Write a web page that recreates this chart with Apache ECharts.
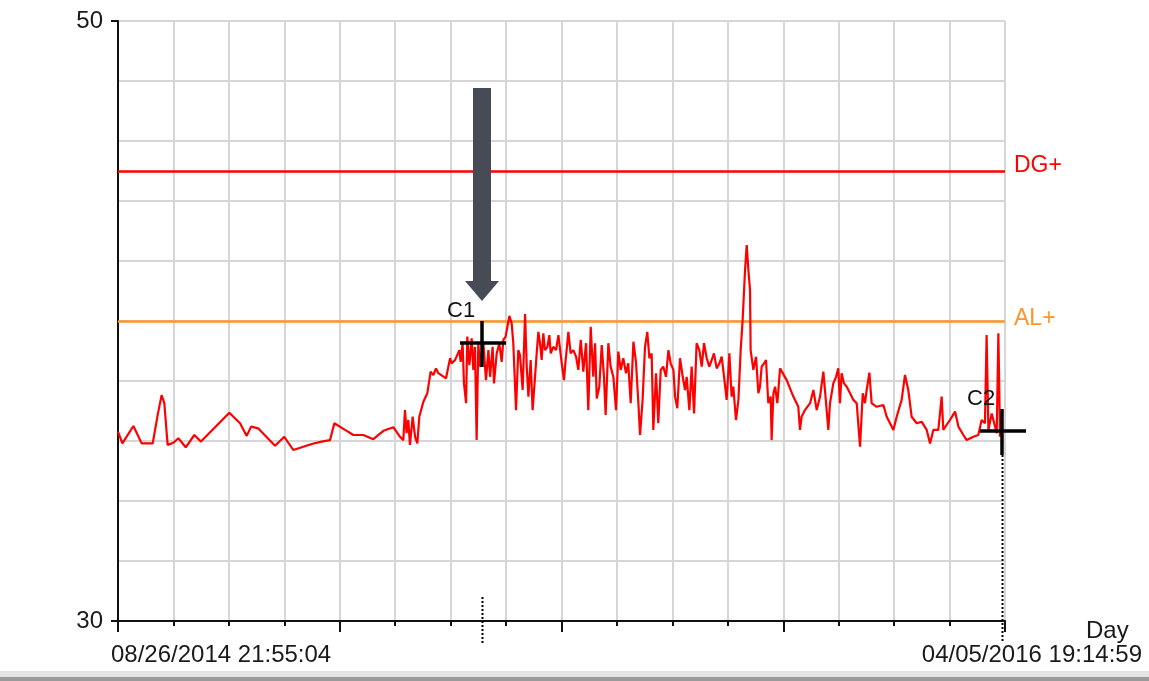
<!DOCTYPE html>
<html>
<head>
<meta charset="utf-8">
<title>Trend C1 / C2</title>
<script src="https://cdn.jsdelivr.net/npm/echarts@6/dist/echarts.min.js"></script>
<style>
  html, body { margin: 0; padding: 0; background: #ffffff; }
  #chart { width: 1149px; height: 681px; }
</style>
</head>
<body>
<div id="chart"></div>
<script>
// Time in days since the first sample (08/26/2014 21:55:04)
const DAYS = [
  0, 2.9, 10.2, 15.7, 23.0, 26.3, 28.9, 30.7, 32.9, 36.7, 40.0, 44.9, 50.6, 55.0, 73.8, 80.9, 85.3, 88.2, 93.0, 104.1,
  110.2, 116.2, 122.8, 128.4, 135.0, 140.5, 143.4, 150.5,
  156.0, 162.6, 169.2, 175.9, 182.5, 186.9, 189.1, 190.2, 191.3, 192.4, 193.5, 195.3, 196.9, 198.4, 199.7, 202.4,
  205.0, 207.2, 209.0, 210.8, 212.3, 213.4, 217.4, 220.1, 221.2, 223.4, 224.9, 226.2, 227.1, 228.4, 229.3, 230.7,
  231.5, 232.9, 234.4, 235.5, 236.6, 237.7, 238.8, 239.9, 242.1, 243.9, 245.5, 246.6, 248.3, 249.2, 251.0, 252.7,
  254.3, 255.4, 256.9, 258.1, 259.4, 260.9, 262.0, 263.8, 265.3, 266.4, 268.2, 269.8, 270.9, 272.0, 273.5, 274.8,
  276.4, 277.5, 278.6, 279.7, 280.8, 281.9, 283.0, 284.6, 285.9, 286.8, 288.5, 290.3, 291.9, 294.1, 295.6,
  296.3, 298.5, 300.0, 301.8, 303.6, 305.1, 306.7, 308.4, 310.2, 311.7, 313.3, 315.0, 316.2, 317.3, 319.0, 320.6,
  322.1, 323.2, 325.0, 326.5, 328.3, 330.1, 331.6, 333.2, 334.9, 336.7, 338.2, 339.8, 341.6, 343.3, 344.9, 346.0,
  347.7, 349.3, 350.8, 352.2, 353.7, 354.8, 356.6, 358.1, 359.7, 361.4, 363.2, 364.8, 366.3, 368.1, 369.2, 370.7,
  372.5, 374.3, 375.8, 376.9, 378.7, 380.2, 381.8, 383.5, 385.3, 386.9, 388.4, 390.2, 391.9, 393.5, 395.0, 396.8,
  398.6, 400.1, 401.7, 403.4, 405.2, 406.7, 407.8, 409.6, 411.2, 412.7, 414.0,
  415.6, 416.7, 417.8, 418.9, 419.3, 421.1, 422.9, 424.4, 425.5, 426.6, 428.2, 429.5, 431.0, 432.6, 433.2, 434.4,
  435.5, 437.0, 438.8, 443.2, 447.6, 450.9, 452.0, 453.1, 455.3, 458.7, 460.9, 463.1, 465.3, 467.5, 469.3, 470.8,
  471.9, 474.1, 475.9, 477.4, 478.5, 479.6, 481.2, 483.0, 485.2, 487.4, 489.6, 491.8, 493.6, 495.1, 496.2, 498.0,
  499.5, 502.8, 507.3, 509.5, 511.7, 513.9, 516.1, 519.4, 521.6, 523.8, 526.0, 529.4, 532.7, 536.0, 538.2, 540.4,
  543.7, 545.9, 547.0, 551.4, 554.8, 557.0, 560.3, 562.5, 566.9, 570.2, 572.4, 574.6, 575.7, 576.9, 579.1, 582.4,
  583.5, 584.6
];

// Measured value at each of those times
const VALUES = [
  36.31, 35.92, 36.5, 35.92, 35.92, 36.87, 37.53, 37.26, 35.87, 35.94, 36.09, 35.79, 36.2, 35.98, 36.94, 36.59, 36.17, 36.48, 36.42, 35.84,
  36.14, 35.7, 35.81, 35.9, 35.98, 36.03, 36.59, 36.37,
  36.2, 36.2, 36.06, 36.34, 36.46, 36.14, 36.03, 37.03, 36.26, 36.7, 35.87, 36.81, 36.14, 35.92, 36.81, 37.31,
  37.59, 38.31, 38.2, 38.42, 38.26, 38.31, 38.09, 38.76, 38.59, 38.7, 38.87, 39.03, 38.64, 39.26, 37.92, 37.26,
  39.48, 38.53, 39.42, 38.37, 39.14, 36.03, 39.26, 38.48, 39.31, 38.03, 39.03, 38.14, 39.14, 37.92, 38.92, 39.26,
  38.64, 39.37, 39.48, 39.81, 40.17, 39.92, 39.26, 37.03, 39.03, 38.87, 37.7, 40.23, 38.48, 37.48, 38.7, 37.03,
  38.14, 38.92, 39.64, 39.26, 38.7, 39.59, 39.03, 39.14, 39.53, 38.92, 39.14, 39.03, 39.53, 38.59, 38.03,
  38.48, 39.64, 38.92, 39.03, 38.81, 38.37, 39.37, 38.31, 39.26, 37.03, 39.81, 38.14, 39.26, 37.42, 37.81, 39.2,
  38.14, 36.87, 39.26, 38.48, 38.14, 37.03, 38.98, 38.37, 38.76, 38.26, 38.59, 37.26, 39.31, 38.64, 37.26, 36.2,
  37.37, 39.14, 39.64, 38.76, 38.92, 36.37, 38.26, 36.59, 38.37, 38.48, 38.14, 39.03, 38.59, 38.37, 37.48, 37.09,
  38.76, 38.14, 37.7, 38.14, 37.03, 38.48, 36.92, 39.26, 39.03, 38.48, 39.26, 38.76, 38.48, 38.7, 38.92, 38.42,
  38.59, 38.81, 38.14, 37.37, 38.92, 37.48, 37.81, 36.7, 37.37, 39.03, 40.03,
  41.7, 42.53, 41.7, 41.03, 39.03, 38.37, 38.81, 37.59, 37.81, 38.48, 38.59, 38.7, 37.26, 37.48, 36.03, 37.59,
  37.81, 37.26, 38.42, 38.03, 37.48, 37.14, 36.37, 36.81, 37.03, 37.26, 37.7, 37.03, 37.48, 38.31, 37.26, 36.37,
  37.26, 37.92, 38.14, 38.42, 37.26, 38.26, 37.92, 37.81, 37.59, 37.37, 37.26, 35.81, 37.59, 37.26, 37.7, 38.28,
  37.26, 37.14, 37.2, 36.81, 36.59, 36.37, 36.81, 37.37, 38.2, 37.7, 36.81, 36.59, 36.64, 36.37, 35.92, 36.37,
  36.37, 37.48, 36.37, 36.7, 36.98, 36.48, 36.2, 36.03, 36.14, 36.2, 36.7, 36.59, 39.53, 36.37, 36.92, 36.26,
  39.59, 36.14
];

// Length of the recording, 08/26/2014 21:55:04 to 04/05/2016 19:14:59, in days
const SPAN_DAYS = 587.89;
const Y_MIN = 30;
const Y_MAX = 50;

// Limit lines
const LIMIT_NAMES = ['DG+', 'AL+'];
const LIMIT_VALUES = [45, 40];

// Cursors placed on the trace
const CURSOR_NAMES = ['C1', 'C2'];
const CURSOR_DAYS = [241.3, 585.9];
const CURSOR_VALUES = [39.27, 36.33];

// Labels under the time axis
const RANGE_LABELS = ['08/26/2014 21:55:04', '04/05/2016 19:14:59'];
const X_AXIS_NAME = 'Day';

const FONT = '"Liberation Sans", Arial, sans-serif';
const GRID_COLOR = '#d6d6d6';
const LIMIT_COLORS = ['#ff0000', '#ff9428'];
const LIMIT_LABEL_OFFSETS = [[0, -5], [0, -2]];

const chart = echarts.init(document.getElementById('chart'), null, { renderer: 'canvas' });

const traceData = DAYS.map((d, i) => [d, VALUES[i]]);
const cursorData = CURSOR_DAYS.map((d, i) => [d, CURSOR_VALUES[i]]);

function renderCursor(params, api) {
  const p = api.coord([api.value(0), api.value(1)]);
  const cx = Math.round(p[0]);
  const cy = Math.round(p[1]);
  const axisY = params.coordSys.y + params.coordSys.height;
  const idx = params.dataIndex;
  const children = [
    { type: 'line', shape: { x1: cx - 22, y1: cy, x2: cx + 24, y2: cy }, style: { stroke: '#000', lineWidth: 3.5 } },
    { type: 'line', shape: { x1: cx, y1: cy - 22, x2: cx, y2: cy + 24 }, style: { stroke: '#000', lineWidth: 3.5 } },
    {
      type: 'text', x: cx - 35, y: cy - 21,
      style: { text: CURSOR_NAMES[idx], fill: '#111', fontSize: 22, fontFamily: FONT, verticalAlign: 'bottom', align: 'left' }
    }
  ];
  // dotted drop line onto the time axis
  const dotTop = idx === 0 ? axisY - 24 : cy + 24;
  children.push({
    type: 'line',
    shape: { x1: cx + 0.5, y1: dotTop, x2: cx + 0.5, y2: axisY + 22 },
    style: { stroke: '#000', lineWidth: 2, lineDash: [2, 2] }
  });
  if (idx === 0) {
    // pointer arrow above the first cursor
    children.push({
      type: 'rect', shape: { x: cx - 9, y: cy - 255, width: 18, height: 194 },
      style: { fill: '#474b56' }
    });
    children.push({
      type: 'polygon', shape: { points: [[cx - 17, cy - 62], [cx + 17, cy - 62], [cx, cy - 42]] },
      style: { fill: '#474b56' }
    });
  }
  return { type: 'group', children };
}

const option = {
  animation: false,
  backgroundColor: '#ffffff',
  grid: { left: 118, right: 144, top: 21, bottom: 60, containLabel: false },
  xAxis: {
    type: 'value',
    min: 0,
    max: SPAN_DAYS,
    interval: SPAN_DAYS / 4,
    axisLine: { show: true, lineStyle: { color: '#111', width: 2 } },
    axisTick: { show: true, length: 11, lineStyle: { color: '#111', width: 2 } },
    minorTick: { show: true, splitNumber: 4, length: 5, lineStyle: { color: '#111', width: 2 } },
    axisLabel: { show: false },
    splitLine: { show: true, lineStyle: { color: GRID_COLOR, width: 2 } },
    minorSplitLine: { show: true, lineStyle: { color: GRID_COLOR, width: 2 } }
  },
  yAxis: [
    {
      type: 'value', min: Y_MIN, max: Y_MAX, interval: 2,
      axisLine: { show: false }, axisTick: { show: false }, axisLabel: { show: false },
      splitLine: { show: true, lineStyle: { color: GRID_COLOR, width: 2 } }
    },
    {
      type: 'value', min: Y_MIN, max: Y_MAX, interval: Y_MAX - Y_MIN, position: 'left',
      axisLine: { show: true, lineStyle: { color: '#111', width: 2 } },
      axisTick: { show: true, length: 7, lineStyle: { color: '#111', width: 2 } },
      axisLabel: { show: true, color: '#1a1a1a', fontSize: 24, fontFamily: FONT, margin: 15 },
      splitLine: { show: false }
    }
  ],
  series: [
    {
      type: 'line',
      xAxisIndex: 0,
      yAxisIndex: 0,
      data: traceData,
      showSymbol: false,
      symbol: 'none',
      lineStyle: { color: '#ff0000', width: 2.2 },
      z: 3,
      markLine: {
        silent: true,
        symbol: 'none',
        z: 2,
        data: LIMIT_NAMES.map((name, i) => ({
          yAxis: LIMIT_VALUES[i],
          name: name,
          lineStyle: { color: LIMIT_COLORS[i], width: 2.5, type: 'solid' },
          label: {
            show: true, position: 'end', formatter: name, distance: 9,
            color: LIMIT_COLORS[i], fontSize: 23, fontFamily: FONT,
            offset: LIMIT_LABEL_OFFSETS[i]
          }
        }))
      }
    },
    {
      type: 'custom',
      xAxisIndex: 0,
      yAxisIndex: 0,
      data: cursorData,
      renderItem: renderCursor,
      clip: false,
      z: 5,
      silent: true
    }
  ],
  graphic: [
    { type: 'rect', left: 0, top: 671, shape: { width: 1149, height: 6 }, style: { fill: '#e4e4e4' }, silent: true },
    { type: 'rect', left: 0, top: 677, shape: { width: 1149, height: 4 }, style: { fill: '#9a9a9a' }, silent: true },
    {
      type: 'text', x: 111, y: 655,
      style: { text: RANGE_LABELS[0], fill: '#1a1a1a', fontSize: 24, fontFamily: FONT, verticalAlign: 'middle', align: 'left' }
    },
    {
      type: 'text', x: 1142, y: 655,
      style: { text: RANGE_LABELS[1], fill: '#1a1a1a', fontSize: 24, fontFamily: FONT, verticalAlign: 'middle', align: 'right' }
    },
    {
      type: 'text', x: 1086, y: 631,
      style: { text: X_AXIS_NAME, fill: '#1a1a1a', fontSize: 24, fontFamily: FONT, verticalAlign: 'middle', align: 'left' }
    }
  ]
};

chart.setOption(option);
</script>
</body>
</html>
